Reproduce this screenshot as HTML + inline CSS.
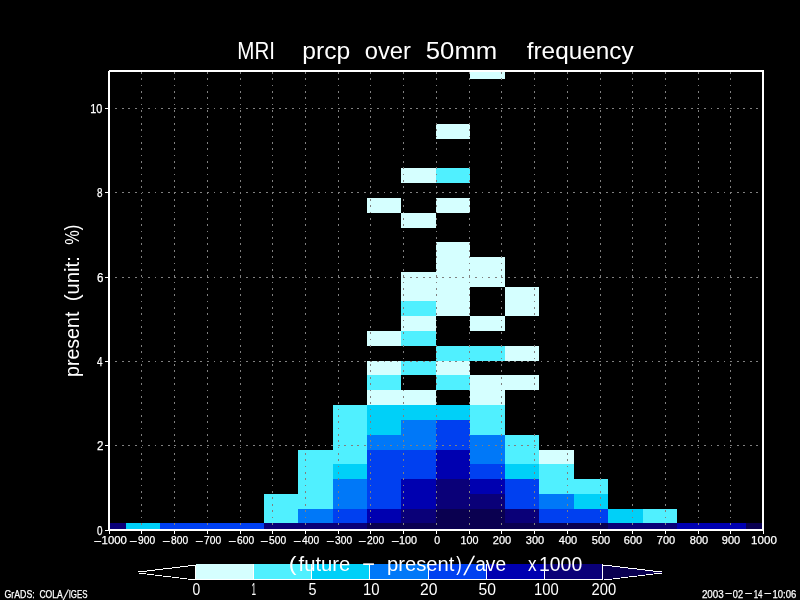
<!DOCTYPE html>
<html lang="en"><head><meta charset="utf-8"><title>MRI prcp over 50mm frequency</title>
<style>
html,body{margin:0;padding:0;background:#000;}
body{width:800px;height:600px;overflow:hidden;}
svg{display:block;}
text{font-family:"Liberation Sans",sans-serif;fill:#fff;}
</style></head><body>
<svg width="800" height="600" viewBox="0 0 800 600">
<rect width="800" height="600" fill="#000"/>

<g shape-rendering="crispEdges">
<rect x="110" y="523" width="16" height="6" fill="#0a0078"/>
<rect x="126" y="523" width="34" height="6" fill="#00d0f8"/>
<rect x="160" y="523" width="35" height="6" fill="#0040f0"/>
<rect x="195" y="523" width="34" height="6" fill="#0040f0"/>
<rect x="229" y="523" width="35" height="6" fill="#0040f0"/>
<rect x="264" y="523" width="34" height="6" fill="#0a0078"/>
<rect x="298" y="523" width="35" height="6" fill="#0a0078"/>
<rect x="333" y="523" width="34" height="6" fill="#0a0078"/>
<rect x="367" y="523" width="34" height="6" fill="#0a0050"/>
<rect x="401" y="523" width="35" height="6" fill="#0a0050"/>
<rect x="436" y="523" width="34" height="6" fill="#0a0050"/>
<rect x="470" y="523" width="35" height="6" fill="#0a0050"/>
<rect x="505" y="523" width="34" height="6" fill="#0a0050"/>
<rect x="539" y="523" width="35" height="6" fill="#0a0050"/>
<rect x="574" y="523" width="34" height="6" fill="#0a0050"/>
<rect x="608" y="523" width="35" height="6" fill="#0a0078"/>
<rect x="643" y="523" width="34" height="6" fill="#0a0078"/>
<rect x="677" y="523" width="35" height="6" fill="#0000b0"/>
<rect x="712" y="523" width="34" height="6" fill="#0000b0"/>
<rect x="746" y="523" width="16" height="6" fill="#0a0050"/>
<rect x="264" y="509" width="34" height="14" fill="#50f0ff"/>
<rect x="298" y="509" width="35" height="14" fill="#0078f8"/>
<rect x="333" y="509" width="34" height="14" fill="#0040f0"/>
<rect x="367" y="509" width="34" height="14" fill="#0000b0"/>
<rect x="401" y="509" width="35" height="14" fill="#0a0078"/>
<rect x="436" y="509" width="34" height="14" fill="#0a0050"/>
<rect x="470" y="509" width="35" height="14" fill="#0a0050"/>
<rect x="505" y="509" width="34" height="14" fill="#0a0078"/>
<rect x="539" y="509" width="35" height="14" fill="#0040f0"/>
<rect x="574" y="509" width="34" height="14" fill="#0040f0"/>
<rect x="608" y="509" width="35" height="14" fill="#00d0f8"/>
<rect x="643" y="509" width="34" height="14" fill="#50f0ff"/>
<rect x="264" y="494" width="34" height="15" fill="#50f0ff"/>
<rect x="298" y="494" width="35" height="15" fill="#50f0ff"/>
<rect x="333" y="494" width="34" height="15" fill="#0078f8"/>
<rect x="367" y="494" width="34" height="15" fill="#0040f0"/>
<rect x="401" y="494" width="35" height="15" fill="#0000b0"/>
<rect x="436" y="494" width="34" height="15" fill="#0a0078"/>
<rect x="470" y="494" width="35" height="15" fill="#0a0078"/>
<rect x="505" y="494" width="34" height="15" fill="#0040f0"/>
<rect x="539" y="494" width="35" height="15" fill="#0078f8"/>
<rect x="574" y="494" width="34" height="15" fill="#00d0f8"/>
<rect x="298" y="479" width="35" height="15" fill="#50f0ff"/>
<rect x="333" y="479" width="34" height="15" fill="#0078f8"/>
<rect x="367" y="479" width="34" height="15" fill="#0040f0"/>
<rect x="401" y="479" width="35" height="15" fill="#0000b0"/>
<rect x="436" y="479" width="34" height="15" fill="#0a0078"/>
<rect x="470" y="479" width="35" height="15" fill="#0000b0"/>
<rect x="505" y="479" width="34" height="15" fill="#0040f0"/>
<rect x="539" y="479" width="35" height="15" fill="#50f0ff"/>
<rect x="574" y="479" width="34" height="15" fill="#50f0ff"/>
<rect x="298" y="464" width="35" height="15" fill="#50f0ff"/>
<rect x="333" y="464" width="34" height="15" fill="#00d0f8"/>
<rect x="367" y="464" width="34" height="15" fill="#0040f0"/>
<rect x="401" y="464" width="35" height="15" fill="#0040f0"/>
<rect x="436" y="464" width="34" height="15" fill="#0000b0"/>
<rect x="470" y="464" width="35" height="15" fill="#0040f0"/>
<rect x="505" y="464" width="34" height="15" fill="#00d0f8"/>
<rect x="539" y="464" width="35" height="15" fill="#50f0ff"/>
<rect x="298" y="450" width="35" height="14" fill="#50f0ff"/>
<rect x="333" y="450" width="34" height="14" fill="#50f0ff"/>
<rect x="367" y="450" width="34" height="14" fill="#0040f0"/>
<rect x="401" y="450" width="35" height="14" fill="#0040f0"/>
<rect x="436" y="450" width="34" height="14" fill="#0000b0"/>
<rect x="470" y="450" width="35" height="14" fill="#0078f8"/>
<rect x="505" y="450" width="34" height="14" fill="#50f0ff"/>
<rect x="539" y="450" width="35" height="14" fill="#d5ffff"/>
<rect x="333" y="435" width="34" height="15" fill="#50f0ff"/>
<rect x="367" y="435" width="34" height="15" fill="#0078f8"/>
<rect x="401" y="435" width="35" height="15" fill="#0078f8"/>
<rect x="436" y="435" width="34" height="15" fill="#0040f0"/>
<rect x="470" y="435" width="35" height="15" fill="#0078f8"/>
<rect x="505" y="435" width="34" height="15" fill="#50f0ff"/>
<rect x="333" y="420" width="34" height="15" fill="#50f0ff"/>
<rect x="367" y="420" width="34" height="15" fill="#00d0f8"/>
<rect x="401" y="420" width="35" height="15" fill="#0078f8"/>
<rect x="436" y="420" width="34" height="15" fill="#0040f0"/>
<rect x="470" y="420" width="35" height="15" fill="#50f0ff"/>
<rect x="333" y="405" width="34" height="15" fill="#50f0ff"/>
<rect x="367" y="405" width="34" height="15" fill="#00d0f8"/>
<rect x="401" y="405" width="35" height="15" fill="#00d0f8"/>
<rect x="436" y="405" width="34" height="15" fill="#00d0f8"/>
<rect x="470" y="405" width="35" height="15" fill="#50f0ff"/>
<rect x="367" y="390" width="34" height="15" fill="#d5ffff"/>
<rect x="401" y="390" width="35" height="15" fill="#d5ffff"/>
<rect x="470" y="390" width="35" height="15" fill="#d5ffff"/>
<rect x="367" y="375" width="34" height="15" fill="#50f0ff"/>
<rect x="436" y="375" width="34" height="15" fill="#50f0ff"/>
<rect x="470" y="375" width="35" height="15" fill="#d5ffff"/>
<rect x="505" y="375" width="34" height="15" fill="#d5ffff"/>
<rect x="367" y="361" width="34" height="14" fill="#d5ffff"/>
<rect x="401" y="361" width="35" height="14" fill="#50f0ff"/>
<rect x="436" y="361" width="34" height="14" fill="#d5ffff"/>
<rect x="436" y="346" width="34" height="15" fill="#50f0ff"/>
<rect x="470" y="346" width="35" height="15" fill="#50f0ff"/>
<rect x="505" y="346" width="34" height="15" fill="#d5ffff"/>
<rect x="367" y="331" width="34" height="15" fill="#d5ffff"/>
<rect x="401" y="331" width="35" height="15" fill="#50f0ff"/>
<rect x="401" y="316" width="35" height="15" fill="#d5ffff"/>
<rect x="470" y="316" width="35" height="15" fill="#d5ffff"/>
<rect x="401" y="301" width="35" height="15" fill="#50f0ff"/>
<rect x="436" y="301" width="34" height="15" fill="#d5ffff"/>
<rect x="505" y="301" width="34" height="15" fill="#d5ffff"/>
<rect x="401" y="287" width="35" height="14" fill="#d5ffff"/>
<rect x="436" y="287" width="34" height="14" fill="#d5ffff"/>
<rect x="505" y="287" width="34" height="14" fill="#d5ffff"/>
<rect x="401" y="272" width="35" height="15" fill="#d5ffff"/>
<rect x="436" y="272" width="34" height="15" fill="#d5ffff"/>
<rect x="470" y="272" width="35" height="15" fill="#d5ffff"/>
<rect x="436" y="257" width="34" height="15" fill="#d5ffff"/>
<rect x="470" y="257" width="35" height="15" fill="#d5ffff"/>
<rect x="436" y="242" width="34" height="15" fill="#d5ffff"/>
<rect x="401" y="213" width="35" height="15" fill="#d5ffff"/>
<rect x="367" y="198" width="34" height="15" fill="#d5ffff"/>
<rect x="436" y="198" width="34" height="15" fill="#d5ffff"/>
<rect x="401" y="168" width="35" height="15" fill="#d5ffff"/>
<rect x="436" y="168" width="34" height="15" fill="#50f0ff"/>
<rect x="436" y="124" width="34" height="15" fill="#d5ffff"/>
<rect x="470" y="72" width="35" height="7" fill="#d5ffff"/>
</g>
<g shape-rendering="crispEdges" stroke="#808080" stroke-width="1" fill="none">
<line x1="141.5" y1="72" x2="141.5" y2="529" stroke-dasharray="1.7 4.65" stroke-dashoffset="0"/>
<line x1="174.5" y1="72" x2="174.5" y2="529" stroke-dasharray="1.7 4.65" stroke-dashoffset="0"/>
<line x1="207.5" y1="72" x2="207.5" y2="529" stroke-dasharray="1.7 4.65" stroke-dashoffset="0"/>
<line x1="240.5" y1="72" x2="240.5" y2="529" stroke-dasharray="1.7 4.65" stroke-dashoffset="0"/>
<line x1="272.5" y1="72" x2="272.5" y2="529" stroke-dasharray="1.7 4.65" stroke-dashoffset="0"/>
<line x1="305.5" y1="72" x2="305.5" y2="529" stroke-dasharray="1.7 4.65" stroke-dashoffset="0"/>
<line x1="338.5" y1="72" x2="338.5" y2="529" stroke-dasharray="1.7 4.65" stroke-dashoffset="0"/>
<line x1="370.5" y1="72" x2="370.5" y2="529" stroke-dasharray="1.7 4.65" stroke-dashoffset="0"/>
<line x1="403.5" y1="72" x2="403.5" y2="529" stroke-dasharray="1.7 4.65" stroke-dashoffset="0"/>
<line x1="436.5" y1="72" x2="436.5" y2="529" stroke-dasharray="1.7 4.65" stroke-dashoffset="0"/>
<line x1="469.5" y1="72" x2="469.5" y2="529" stroke-dasharray="1.7 4.65" stroke-dashoffset="0"/>
<line x1="501.5" y1="72" x2="501.5" y2="529" stroke-dasharray="1.7 4.65" stroke-dashoffset="0"/>
<line x1="534.5" y1="72" x2="534.5" y2="529" stroke-dasharray="1.7 4.65" stroke-dashoffset="0"/>
<line x1="567.5" y1="72" x2="567.5" y2="529" stroke-dasharray="1.7 4.65" stroke-dashoffset="0"/>
<line x1="600.5" y1="72" x2="600.5" y2="529" stroke-dasharray="1.7 4.65" stroke-dashoffset="0"/>
<line x1="632.5" y1="72" x2="632.5" y2="529" stroke-dasharray="1.7 4.65" stroke-dashoffset="0"/>
<line x1="665.5" y1="72" x2="665.5" y2="529" stroke-dasharray="1.7 4.65" stroke-dashoffset="0"/>
<line x1="698.5" y1="72" x2="698.5" y2="529" stroke-dasharray="1.7 4.65" stroke-dashoffset="0"/>
<line x1="730.5" y1="72" x2="730.5" y2="529" stroke-dasharray="1.7 4.65" stroke-dashoffset="0"/>
<line x1="115.4" y1="445.5" x2="760" y2="445.5" stroke-dasharray="1.8 4.74" stroke-dashoffset="0"/>
<line x1="115.4" y1="361.5" x2="760" y2="361.5" stroke-dasharray="1.8 4.74" stroke-dashoffset="0"/>
<line x1="115.4" y1="277.5" x2="760" y2="277.5" stroke-dasharray="1.8 4.74" stroke-dashoffset="0"/>
<line x1="115.4" y1="192.5" x2="760" y2="192.5" stroke-dasharray="1.8 4.74" stroke-dashoffset="0"/>
<line x1="115.4" y1="108.5" x2="760" y2="108.5" stroke-dasharray="1.8 4.74" stroke-dashoffset="0"/>
</g>
<g shape-rendering="crispEdges" fill="#fff">
<rect x="109" y="70" width="655" height="1"/><rect x="108" y="71" width="656" height="1"/><rect x="108" y="529" width="656" height="2"/>
<rect x="108" y="71" width="2" height="460"/><rect x="762" y="70" width="2" height="461"/>
<rect x="109" y="531" width="1" height="3"/>
<rect x="141" y="531" width="1" height="3"/>
<rect x="174" y="531" width="1" height="3"/>
<rect x="207" y="531" width="1" height="3"/>
<rect x="240" y="531" width="1" height="3"/>
<rect x="272" y="531" width="1" height="3"/>
<rect x="305" y="531" width="1" height="3"/>
<rect x="338" y="531" width="1" height="3"/>
<rect x="370" y="531" width="1" height="3"/>
<rect x="403" y="531" width="1" height="3"/>
<rect x="436" y="531" width="1" height="3"/>
<rect x="469" y="531" width="1" height="3"/>
<rect x="501" y="531" width="1" height="3"/>
<rect x="534" y="531" width="1" height="3"/>
<rect x="567" y="531" width="1" height="3"/>
<rect x="600" y="531" width="1" height="3"/>
<rect x="632" y="531" width="1" height="3"/>
<rect x="665" y="531" width="1" height="3"/>
<rect x="698" y="531" width="1" height="3"/>
<rect x="730" y="531" width="1" height="3"/>
<rect x="763" y="531" width="1" height="3"/>
<rect x="105" y="530" width="3" height="1"/>
<rect x="105" y="445" width="3" height="1"/>
<rect x="105" y="361" width="3" height="1"/>
<rect x="105" y="277" width="3" height="1"/>
<rect x="105" y="192" width="3" height="1"/>
<rect x="105" y="108" width="3" height="1"/>
</g>
<g shape-rendering="crispEdges">
<rect x="196" y="564" width="57" height="15" fill="#d5ffff"/>
<rect x="254" y="564" width="57" height="15" fill="#50f0ff"/>
<rect x="312" y="564" width="57" height="15" fill="#00d0f8"/>
<rect x="370" y="564" width="58" height="15" fill="#0078f8"/>
<rect x="429" y="564" width="57" height="15" fill="#0040f0"/>
<rect x="487" y="564" width="57" height="15" fill="#0000b0"/>
<rect x="545" y="564" width="57" height="15" fill="#0a0078"/>
<polygon points="603,565 662,572 662,573 603,580" fill="#0a0050"/>
<g fill="#fff">
<rect x="195" y="579" width="408" height="1"/>
<rect x="195" y="565" width="1" height="15"/>
<rect x="253" y="564" width="1" height="16"/>
<rect x="311" y="564" width="1" height="16"/>
<rect x="369" y="564" width="1" height="16"/>
<rect x="428" y="564" width="1" height="16"/>
<rect x="486" y="564" width="1" height="16"/>
<rect x="544" y="564" width="1" height="16"/>
<rect x="602" y="564" width="1" height="16"/>
<rect x="138" y="571" width="9" height="1"/>
<rect x="139" y="573" width="7" height="1"/>
<rect x="147" y="570" width="8" height="1"/>
<rect x="147" y="574" width="7" height="1"/>
<rect x="155" y="569" width="8" height="1"/>
<rect x="155" y="575" width="7" height="1"/>
<rect x="163" y="568" width="9" height="1"/>
<rect x="163" y="576" width="8" height="1"/>
<rect x="172" y="567" width="8" height="1"/>
<rect x="172" y="577" width="7" height="1"/>
<rect x="180" y="566" width="8" height="1"/>
<rect x="180" y="578" width="7" height="1"/>
<rect x="188" y="565" width="8" height="1"/>
<rect x="188" y="579" width="7" height="1"/>
<rect x="603" y="565" width="9" height="1"/>
<rect x="604" y="579" width="8" height="1"/>
<rect x="612" y="566" width="8" height="1"/>
<rect x="613" y="578" width="7" height="1"/>
<rect x="620" y="567" width="8" height="1"/>
<rect x="621" y="577" width="7" height="1"/>
<rect x="628" y="568" width="9" height="1"/>
<rect x="629" y="576" width="8" height="1"/>
<rect x="637" y="569" width="8" height="1"/>
<rect x="638" y="575" width="7" height="1"/>
<rect x="645" y="570" width="8" height="1"/>
<rect x="646" y="574" width="7" height="1"/>
<rect x="653" y="571" width="9" height="1"/>
<rect x="654" y="573" width="8" height="1"/>
</g></g>
<g>
<text><tspan x="93.50" y="543.5" font-size="11.4px" stroke="#fff" stroke-width="0.25" textLength="8.54" lengthAdjust="spacingAndGlyphs">-</tspan><tspan x="101.60" y="544" font-size="11.4px" stroke="#fff" stroke-width="0.25" textLength="25.24" lengthAdjust="spacingAndGlyphs">1000</tspan></text>
<text><tspan x="128.90" y="543.5" font-size="11.4px" stroke="#fff" stroke-width="0.25" textLength="8.54" lengthAdjust="spacingAndGlyphs">-</tspan><tspan x="138.00" y="544" font-size="11.4px" stroke="#fff" stroke-width="0.25" textLength="17.11" lengthAdjust="spacingAndGlyphs">900</tspan></text>
<text><tspan x="161.90" y="543.5" font-size="11.4px" stroke="#fff" stroke-width="0.25" textLength="8.54" lengthAdjust="spacingAndGlyphs">-</tspan><tspan x="171.00" y="544" font-size="11.4px" stroke="#fff" stroke-width="0.25" textLength="17.11" lengthAdjust="spacingAndGlyphs">800</tspan></text>
<text><tspan x="194.90" y="543.5" font-size="11.4px" stroke="#fff" stroke-width="0.25" textLength="8.54" lengthAdjust="spacingAndGlyphs">-</tspan><tspan x="204.00" y="544" font-size="11.4px" stroke="#fff" stroke-width="0.25" textLength="17.11" lengthAdjust="spacingAndGlyphs">700</tspan></text>
<text><tspan x="227.90" y="543.5" font-size="11.4px" stroke="#fff" stroke-width="0.25" textLength="8.54" lengthAdjust="spacingAndGlyphs">-</tspan><tspan x="237.00" y="544" font-size="11.4px" stroke="#fff" stroke-width="0.25" textLength="17.11" lengthAdjust="spacingAndGlyphs">600</tspan></text>
<text><tspan x="259.90" y="543.5" font-size="11.4px" stroke="#fff" stroke-width="0.25" textLength="8.54" lengthAdjust="spacingAndGlyphs">-</tspan><tspan x="269.00" y="544" font-size="11.4px" stroke="#fff" stroke-width="0.25" textLength="17.11" lengthAdjust="spacingAndGlyphs">500</tspan></text>
<text><tspan x="292.90" y="543.5" font-size="11.4px" stroke="#fff" stroke-width="0.25" textLength="8.54" lengthAdjust="spacingAndGlyphs">-</tspan><tspan x="302.00" y="544" font-size="11.4px" stroke="#fff" stroke-width="0.25" textLength="17.11" lengthAdjust="spacingAndGlyphs">400</tspan></text>
<text><tspan x="325.90" y="543.5" font-size="11.4px" stroke="#fff" stroke-width="0.25" textLength="8.54" lengthAdjust="spacingAndGlyphs">-</tspan><tspan x="335.00" y="544" font-size="11.4px" stroke="#fff" stroke-width="0.25" textLength="17.11" lengthAdjust="spacingAndGlyphs">300</tspan></text>
<text><tspan x="357.90" y="543.5" font-size="11.4px" stroke="#fff" stroke-width="0.25" textLength="8.54" lengthAdjust="spacingAndGlyphs">-</tspan><tspan x="367.00" y="544" font-size="11.4px" stroke="#fff" stroke-width="0.25" textLength="17.11" lengthAdjust="spacingAndGlyphs">200</tspan></text>
<text><tspan x="390.90" y="543.5" font-size="11.4px" stroke="#fff" stroke-width="0.25" textLength="8.54" lengthAdjust="spacingAndGlyphs">-</tspan><tspan x="399.05" y="544" font-size="11.4px" stroke="#fff" stroke-width="0.25" textLength="18.06" lengthAdjust="spacingAndGlyphs">100</tspan></text>
<text><tspan x="434.20" y="544" font-size="11.4px" stroke="#fff" stroke-width="0.25" textLength="5.92" lengthAdjust="spacingAndGlyphs">0</tspan></text>
<text><tspan x="460.56" y="544" font-size="11.4px" stroke="#fff" stroke-width="0.25" textLength="17.96" lengthAdjust="spacingAndGlyphs">100</tspan></text>
<text><tspan x="492.80" y="544" font-size="11.4px" stroke="#fff" stroke-width="0.25" textLength="18.42" lengthAdjust="spacingAndGlyphs">200</tspan></text>
<text><tspan x="525.80" y="544" font-size="11.4px" stroke="#fff" stroke-width="0.25" textLength="18.42" lengthAdjust="spacingAndGlyphs">300</tspan></text>
<text><tspan x="558.80" y="544" font-size="11.4px" stroke="#fff" stroke-width="0.25" textLength="18.42" lengthAdjust="spacingAndGlyphs">400</tspan></text>
<text><tspan x="591.80" y="544" font-size="11.4px" stroke="#fff" stroke-width="0.25" textLength="18.42" lengthAdjust="spacingAndGlyphs">500</tspan></text>
<text><tspan x="623.80" y="544" font-size="11.4px" stroke="#fff" stroke-width="0.25" textLength="18.42" lengthAdjust="spacingAndGlyphs">600</tspan></text>
<text><tspan x="656.80" y="544" font-size="11.4px" stroke="#fff" stroke-width="0.25" textLength="18.42" lengthAdjust="spacingAndGlyphs">700</tspan></text>
<text><tspan x="689.80" y="544" font-size="11.4px" stroke="#fff" stroke-width="0.25" textLength="18.42" lengthAdjust="spacingAndGlyphs">800</tspan></text>
<text><tspan x="721.80" y="544" font-size="11.4px" stroke="#fff" stroke-width="0.25" textLength="18.42" lengthAdjust="spacingAndGlyphs">900</tspan></text>
<text><tspan x="751.08" y="544" font-size="11.4px" stroke="#fff" stroke-width="0.25" textLength="25.77" lengthAdjust="spacingAndGlyphs">1000</tspan></text>
<text><tspan x="96.90" y="535" font-size="12.4px" stroke="#fff" stroke-width="0.25" textLength="5.52" lengthAdjust="spacingAndGlyphs">0</tspan></text>
<text><tspan x="96.90" y="450" font-size="12.4px" stroke="#fff" stroke-width="0.25" textLength="6.45" lengthAdjust="spacingAndGlyphs">2</tspan></text>
<text><tspan x="96.90" y="366" font-size="12.4px" stroke="#fff" stroke-width="0.25" textLength="5.52" lengthAdjust="spacingAndGlyphs">4</tspan></text>
<text><tspan x="96.90" y="282" font-size="12.4px" stroke="#fff" stroke-width="0.25" textLength="6.45" lengthAdjust="spacingAndGlyphs">6</tspan></text>
<text><tspan x="96.90" y="197" font-size="12.4px" stroke="#fff" stroke-width="0.25" textLength="5.52" lengthAdjust="spacingAndGlyphs">8</tspan></text>
<text><tspan x="90.22" y="113" font-size="12.4px" stroke="#fff" stroke-width="0.25" textLength="12.10" lengthAdjust="spacingAndGlyphs">10</tspan></text>
<text><tspan x="237.26" y="59" font-size="23.6px" textLength="37.71" lengthAdjust="spacingAndGlyphs">MRI</tspan> <tspan x="302.25" y="59" font-size="23.6px" textLength="47.99" lengthAdjust="spacingAndGlyphs">prcp</tspan> <tspan x="364.80" y="59" font-size="23.6px" textLength="46.11" lengthAdjust="spacingAndGlyphs">over</tspan> <tspan x="425.81" y="59" font-size="23.6px" textLength="71.49" lengthAdjust="spacingAndGlyphs">50mm</tspan> <tspan x="526.75" y="59" font-size="23.6px" textLength="106.86" lengthAdjust="spacingAndGlyphs">frequency</tspan></text>
<text><tspan x="192.40" y="595" font-size="16.7px" textLength="7.73" lengthAdjust="spacingAndGlyphs">0</tspan></text>
<text><tspan x="251.51" y="595" font-size="16.7px" textLength="4.52" lengthAdjust="spacingAndGlyphs">1</tspan></text>
<text><tspan x="308.44" y="595" font-size="16.7px" textLength="8.01" lengthAdjust="spacingAndGlyphs">5</tspan></text>
<text><tspan x="362.91" y="595" font-size="16.7px" textLength="16.60" lengthAdjust="spacingAndGlyphs">10</tspan></text>
<text><tspan x="420.06" y="595" font-size="16.7px" textLength="17.47" lengthAdjust="spacingAndGlyphs">20</tspan></text>
<text><tspan x="478.46" y="595" font-size="16.7px" textLength="17.47" lengthAdjust="spacingAndGlyphs">50</tspan></text>
<text><tspan x="534.12" y="595" font-size="16.7px" textLength="24.63" lengthAdjust="spacingAndGlyphs">100</tspan></text>
<text><tspan x="591.52" y="595" font-size="16.7px" textLength="24.63" lengthAdjust="spacingAndGlyphs">200</tspan></text>
<text><tspan x="288.80" y="571" font-size="19.3px" textLength="7.71" lengthAdjust="spacingAndGlyphs">(</tspan><tspan x="298.50" y="571" font-size="19.3px" textLength="51.83" lengthAdjust="spacingAndGlyphs">future</tspan> <tspan x="361.32" y="569.8" font-size="19.3px" textLength="14.64" lengthAdjust="spacingAndGlyphs">-</tspan> <tspan x="386.95" y="571" font-size="19.3px" textLength="67.38" lengthAdjust="spacingAndGlyphs">present</tspan><tspan x="456.20" y="571" font-size="19.3px" textLength="5.52" lengthAdjust="spacingAndGlyphs">)</tspan></text><text transform="matrix(1.15,0,-0.406,1.373,463.3,574.8)" x="0" y="0" font-size="19.3px">/</text><text><tspan x="475.21" y="571" font-size="19.3px" textLength="30.88" lengthAdjust="spacingAndGlyphs">ave</tspan> <tspan x="528.00" y="571" font-size="19.3px" textLength="8.57" lengthAdjust="spacingAndGlyphs">x</tspan><tspan x="539.00" y="571" font-size="19.5px" textLength="43.18" lengthAdjust="spacingAndGlyphs">1000</tspan></text>
<text><tspan x="4.40" y="597.7" font-size="10.8px" stroke="#fff" stroke-width="0.25" textLength="30.33" lengthAdjust="spacingAndGlyphs">GrADS:</tspan> <tspan x="39.40" y="597.7" font-size="10.8px" stroke="#fff" stroke-width="0.25" textLength="23.42" lengthAdjust="spacingAndGlyphs">COLA</tspan></text><text transform="matrix(1,0,-0.39,1.32,62.7,599.5)" x="0" y="0" font-size="10.8px" stroke="#fff" stroke-width="0.2">/</text><text><tspan x="68.67" y="597.7" font-size="10.8px" stroke="#fff" stroke-width="0.25" textLength="18.82" lengthAdjust="spacingAndGlyphs">IGES</tspan></text>
<text><tspan x="701.90" y="597.7" font-size="10.8px" stroke="#fff" stroke-width="0.25" textLength="21.88" lengthAdjust="spacingAndGlyphs">2003</tspan><tspan x="724.80" y="596.4" font-size="10.8px" stroke="#fff" stroke-width="0.25" textLength="7.76" lengthAdjust="spacingAndGlyphs">-</tspan><tspan x="732.75" y="597.7" font-size="10.8px" stroke="#fff" stroke-width="0.25" textLength="10.26" lengthAdjust="spacingAndGlyphs">02</tspan><tspan x="744.40" y="596.4" font-size="10.8px" stroke="#fff" stroke-width="0.25" textLength="8.24" lengthAdjust="spacingAndGlyphs">-</tspan><tspan x="753.66" y="597.7" font-size="10.8px" stroke="#fff" stroke-width="0.25" textLength="8.85" lengthAdjust="spacingAndGlyphs">14</tspan><tspan x="763.80" y="596.4" font-size="10.8px" stroke="#fff" stroke-width="0.25" textLength="8.18" lengthAdjust="spacingAndGlyphs">-</tspan><tspan x="772.52" y="597.7" font-size="10.8px" stroke="#fff" stroke-width="0.25" textLength="23.76" lengthAdjust="spacingAndGlyphs">10:06</tspan></text>
</g>
<g transform="translate(79,0) rotate(-90)">
<text><tspan x="-377.00" y="0" font-size="19.6px" textLength="65.36" lengthAdjust="spacingAndGlyphs">present</tspan> <tspan x="-301.24" y="0" font-size="19.6px" textLength="45.10" lengthAdjust="spacingAndGlyphs">(unit:</tspan> <tspan x="-244.63" y="0" font-size="19.6px" textLength="19.92" lengthAdjust="spacingAndGlyphs">%)</tspan></text>
</g>
</svg></body></html>
